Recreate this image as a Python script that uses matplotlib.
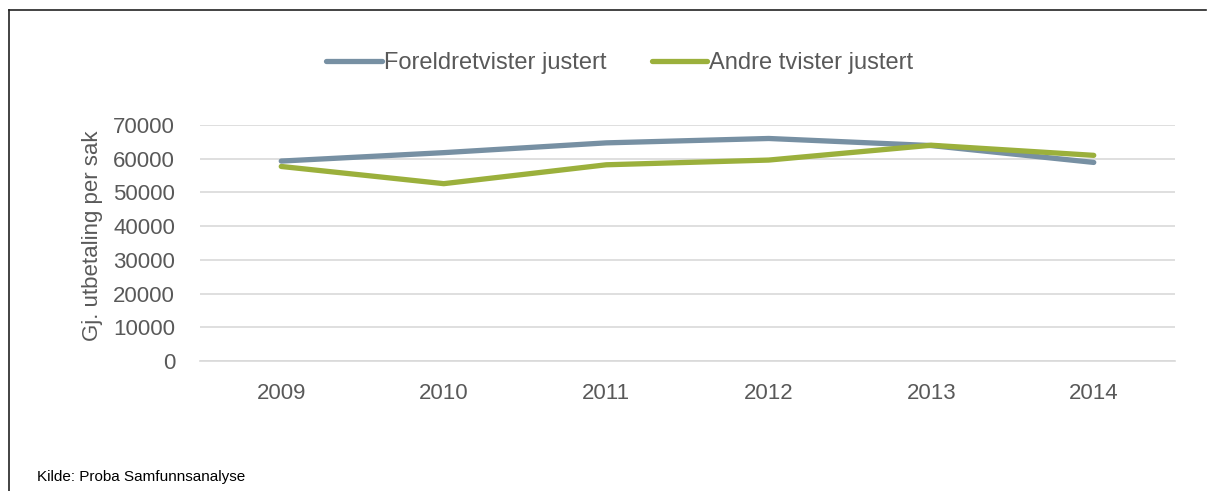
import matplotlib
matplotlib.use("Agg")
import matplotlib.pyplot as plt
from matplotlib.lines import Line2D

years = ["2009", "2010", "2011", "2012", "2013", "2014"]
foreldre = [59300, 61800, 64700, 66000, 63900, 58900]
andre = [57700, 52600, 58200, 59600, 64000, 61000]
yticks = [0, 10000, 20000, 30000, 40000, 50000, 60000, 70000]

plt.rcParams["font.family"] = ["Liberation Sans", "DejaVu Sans"]

W, H = 1207, 491
fig = plt.figure(figsize=(W / 100, H / 100), dpi=100)
ax = fig.add_axes([200 / W, 1 - 361 / H, 975 / W, 236 / H])

x = range(len(years))
l1, = ax.plot(x, foreldre, color="#7790A3", linewidth=3.8, solid_capstyle="round",
              label="Foreldretvister justert")
l2, = ax.plot(x, andre, color="#9BB03C", linewidth=3.8, solid_capstyle="round",
              label="Andre tvister justert")

ax.set_xlim(-0.5, len(years) - 0.5)
ax.set_ylim(0, 70000)
ax.set_yticks(yticks)
ax.set_yticklabels([str(v) for v in yticks])
ax.set_xticks(list(x))
ax.set_xticklabels(years)
ax.grid(axis="y", color="#D9D9D9", linewidth=1.2)
ax.set_axisbelow(True)
for s in ["top", "right", "left"]:
    ax.spines[s].set_visible(False)
ax.spines["bottom"].set_color("#D9D9D9")
ax.spines["bottom"].set_linewidth(1.2)
ax.tick_params(axis="both", length=0, labelsize=16, labelcolor="#595959")
ax.tick_params(axis="x", pad=16)
ax.tick_params(axis="y", pad=18)
ax.set_ylabel("Gj. utbetaling per sak", fontsize=16, color="#595959", labelpad=6)
ax.yaxis.set_label_coords(-0.099, 0.53)

fig.legend(handles=[l1, l2], loc="center", bbox_to_anchor=(620 / W, 1 - 63 / H),
           ncol=2, frameon=False, fontsize=17, handlelength=2.35, handletextpad=0.1,
           columnspacing=1.9, labelcolor="#595959")

# outer frame
fig.add_artist(Line2D([9 / W, 9 / W], [0, 1 - 10 / H], color="#222222", linewidth=1.2))
fig.add_artist(Line2D([9 / W, 1206 / W], [1 - 10 / H, 1 - 10 / H], color="#222222", linewidth=1.2))

fig.text(37 / W, 1 - 477 / H, "Kilde: Proba Samfunnsanalyse", fontsize=11, va="center",
         color="black")

fig.savefig("out.png", dpi=100)
